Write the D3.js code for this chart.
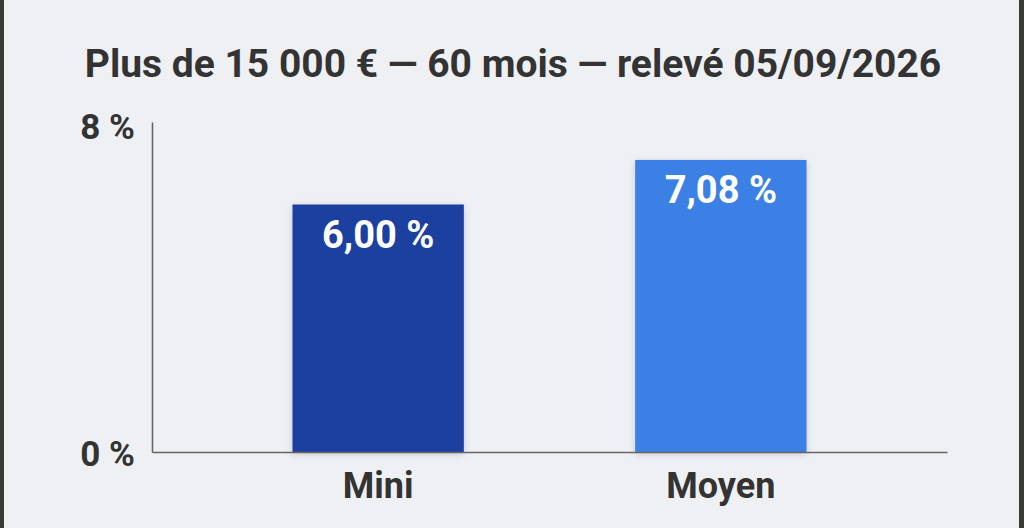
<!DOCTYPE html>
<html>
<head>
<meta charset="utf-8">
<script src="https://cdn.jsdelivr.net/npm/d3@7"></script>
<style>
  html, body { margin: 0; padding: 0; background: #eef0f4; }
  svg { display: block; font-family: Roboto, "Noto Sans", sans-serif; }
</style>
</head>
<body>
<div id="chart"></div>
<script>
// data
var titleText = "Plus de 15 000 \u20ac \u2014 60 mois \u2014 relev\u00e9 05/09/2026";
var categories = ["Mini", "Moyen"];
var values = [6.00, 7.08];
var barColors = ["#1e3f9f", "#3b81e5"];
var yTicks = [0, 8];

var width = 1024, height = 528;

var svg = d3.select("#chart").append("svg")
    .attr("width", width)
    .attr("height", height);

// soft shadow under the bars
var defs = svg.append("defs");
var shadow = defs.append("filter").attr("id", "barShadow")
    .attr("x", "-10%").attr("y", "-10%").attr("width", "120%").attr("height", "120%");
shadow.append("feDropShadow")
    .attr("dx", 0).attr("dy", 2).attr("stdDeviation", 3)
    .attr("flood-color", "#000").attr("flood-opacity", 0.18);

svg.append("rect")
    .attr("width", width).attr("height", height)
    .style("fill", "#eef0f4");

// dark frame strips on the sides
svg.append("rect").attr("x", 0).attr("y", 0).attr("width", 4).attr("height", height).style("fill", "#3a3a3a");
svg.append("rect").attr("x", 1019).attr("y", 0).attr("width", 5).attr("height", height).style("fill", "#3a3a3a");

// title
svg.append("text")
    .attr("x", 513)
    .attr("y", 77)
    .attr("text-anchor", "middle")
    .style("font-size", "39px")
    .style("font-weight", "bold")
    .style("fill", "#333")
    .text(titleText);

var x = d3.scaleBand()
    .domain(categories)
    .range([152, 947])
    .paddingInner(0.5)
    .paddingOuter(0.41);

var y = d3.scaleLinear()
    .domain([0, 8])
    .range([452, 122]);

// bars
var bars = svg.selectAll(".bar")
    .data(categories)
    .enter().append("g")
    .attr("class", "bar");

bars.append("rect")
    .attr("x", function (d) { return x(d); })
    .attr("y", function (d, i) { return y(values[i]); })
    .attr("width", x.bandwidth())
    .attr("height", function (d, i) { return y(0) - y(values[i]); })
    .style("fill", function (d, i) { return barColors[i]; })
    .attr("filter", "url(#barShadow)");

// value labels inside bars
bars.append("text")
    .attr("x", function (d) { return x(d) + x.bandwidth() / 2; })
    .attr("y", function (d, i) { return y(values[i]) + 43; })
    .attr("text-anchor", "middle")
    .style("font-size", "38px")
    .style("font-weight", "bold")
    .style("fill", "#fff")
    .text(function (d, i) { return values[i].toFixed(2).replace(".", ",") + " %"; });

// y axis
var yAxis = d3.axisLeft(y)
    .tickValues(yTicks)
    .tickSize(0)
    .tickPadding(17)
    .tickFormat(function (d) { return d + " %"; });

var gy = svg.append("g")
    .attr("transform", "translate(152,0)")
    .call(yAxis);
gy.select(".domain").style("stroke", "#666").style("stroke-width", 1.6);
gy.selectAll("text")
    .style("font-size", "35px")
    .style("font-weight", "bold")
    .style("fill", "#333")
    .style("font-family", "Roboto, sans-serif")
    .attr("dy", function (d) { return d === 0 ? "0.38em" : "0.46em"; });

// x axis
var xAxis = d3.axisBottom(x)
    .tickSize(0)
    .tickPadding(20);

var gx = svg.append("g")
    .attr("transform", "translate(0,452)")
    .call(xAxis);
gx.select(".domain").style("stroke", "#666").style("stroke-width", 1.6);
gx.selectAll("text")
    .style("font-size", "36px")
    .style("font-weight", "bold")
    .style("fill", "#333")
    .style("font-family", "Roboto, sans-serif");
</script>
</body>
</html>
